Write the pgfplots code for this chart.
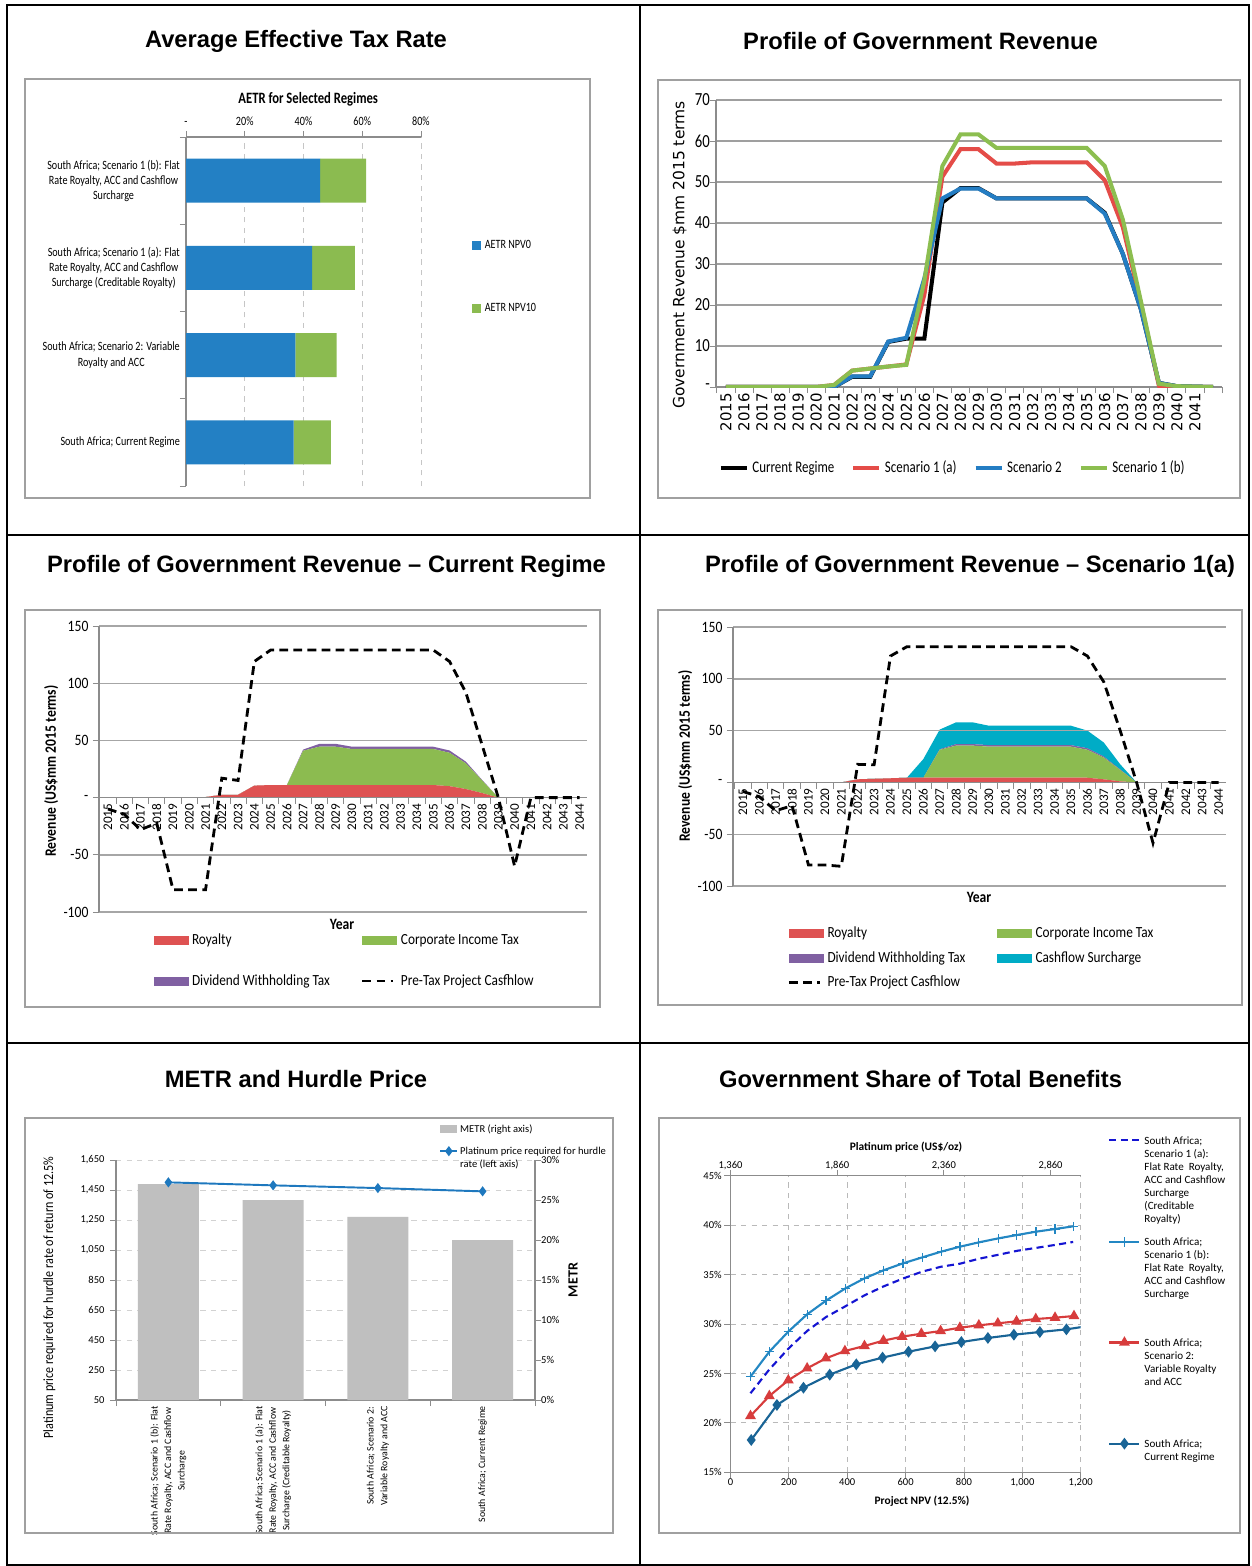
\documentclass[border=0pt]{standalone}
\usepackage{fontspec}
\setmainfont{Carlito}
\newfontfamily\titlefont{Liberation Sans}
\newfontfamily\nA[FakeStretch=0.8]{Carlito}
\newfontfamily\nB[FakeStretch=0.86]{Carlito}
\newfontfamily\dv{DejaVu Sans}
\usepackage{pgfplots}
\usepackage{pgfplotstable}
\pgfplotsset{compat=1.18}

\definecolor{frame}{RGB}{160,160,160}
\definecolor{axgray}{RGB}{140,140,140}
\definecolor{aetrBlue}{RGB}{35,128,196}
\definecolor{aetrGreen}{RGB}{139,187,80}
\definecolor{lnRed}{RGB}{228,76,72}
\definecolor{lnBlue}{RGB}{36,125,195}
\definecolor{lnGreen}{RGB}{140,190,80}
\definecolor{arRed}{RGB}{222,82,82}
\definecolor{arGreen}{RGB}{140,187,80}
\definecolor{arPurple}{RGB}{128,96,162}
\definecolor{arCyan}{RGB}{0,172,198}
\definecolor{barGray}{RGB}{191,191,191}
\definecolor{hurdleBlue}{RGB}{30,120,190}
\definecolor{gsDash}{RGB}{20,20,210}
\definecolor{gsOneB}{RGB}{35,135,195}
\definecolor{gsRed}{RGB}{215,60,60}
\definecolor{gsCur}{RGB}{25,100,150}

\pgfplotsset{
  panel/.style={scale only axis, anchor=south west, major tick length=0pt, minor tick length=3.5pt,
    tick align=outside, tick style={axgray, line width=0.5pt}, axis line style={axgray, line width=0.6pt},
    legend cell align=left},
  sqlegend/.style={legend image code/.code={\fill[##1] (0cm,-0.09cm) rectangle (0.18cm,0.09cm);}},
  boxlegend/.style={legend image code/.code={\fill[##1] (0cm,-0.09cm) rectangle (0.7cm,0.09cm);}},
  shortline/.style={legend image code/.code={\draw[##1] (0cm,0cm) -- (0.52cm,0cm);}},
  dashlegend/.style={legend image code/.code={\draw[##1] (0cm,0cm) -- (0.62cm,0cm);}},
  hiline/.style={legend image code/.code={\draw[mark repeat=2, mark phase=2, ##1] plot coordinates {(0cm,0.075cm) (0.3cm,0.075cm) (0.6cm,0.075cm)};}},
  hilinemid/.style={legend image code/.code={\draw[##1, mark indices={2}] plot coordinates {(0cm,0.075cm) (0.3cm,0.075cm) (0.6cm,0.075cm)};}},
  smallline/.style={legend image code/.code={\draw[mark repeat=2, mark phase=2, ##1] plot coordinates {(0cm,0.07cm) (0.17cm,0.07cm) (0.34cm,0.07cm)};}},
  hibar/.style={legend image code/.code={\fill[##1] (0cm,0cm) rectangle (0.34cm,0.16cm);}},
  gsbox/.style={panel, at={(14.61cm,-29.446cm)}, width=7.004cm, height=5.932cm,
    xmin=0, xmax=1200, ymin=15, ymax=45},
  gsleg/.style={legend style={at={(axis description cs:1.078,#1)}, anchor=north west, draw=none, fill=none, inner sep=0pt,
    cells={anchor=base west}, font=\fontsize{6.3}{7.4}\selectfont,
    nodes={inner sep=0pt}, /tikz/every odd column/.append style={column sep=0.08cm}}},
}

% government revenue by scenario, 2015-2042
\pgfplotstableread{
idx cur s1a s2 s1b
0 0 0 0 0
1 0 0 0 0
2 0 0 0 0
3 0 0 0 0
4 0 0 0 0
5 0 0 0 0
6 0 0.5 0 0.5
7 2.5 4 2.6 4
8 2.5 4.5 2.6 4.5
9 11 5 11.1 5
10 11.8 5.5 12 5.4
11 11.8 22.5 26.5 26
12 45 51.3 46 53.9
13 48.5 58 48.4 61.6
14 48.5 58 48.4 61.6
15 46 54.5 46 58.3
16 46 54.5 46 58.3
17 46 54.8 46 58.3
18 46 54.8 46 58.3
19 46 54.8 46 58.3
20 46 54.8 46 58.3
21 42.5 50.4 42.3 53.9
22 32.5 39 32.5 40.9
23 19 20.5 19 21
24 1 0.3 1 0.8
25 0.2 0 0.2 0.2
26 0.1 0 0.1 0.1
27 0 0 0 0
}\revtable

% current regime, 2015-2044
\pgfplotstableread{
idx roy cit dwt pre
0 0 0 0 -10
1 0 0 0 -14.5
2 0 0 0 -28
3 0 0 0 -22.4
4 0 0 0 -80.5
5 0 0 0 -80.5
6 0.5 0 0 -80.5
7 2.5 0 0 17
8 2.5 0 0 15
9 10.5 0 0 119
10 11 0 0 129
11 11 0 0 129
12 11 30 1 129
13 11 33.5 2.5 129
14 11 33.5 2.5 129
15 11 31.5 2 129
16 11 31.5 2 129
17 11 31.5 2 129
18 11 31.5 2 129
19 11 31.5 2 129
20 11 31.5 2 129
21 10 29.2 2 119
22 7.5 22.5 1.5 92
23 4 11 0.5 46
24 0 0 0 0
25 0 0 0 -60
26 0 0 0 0
27 0 0 0 0
28 0 0 0 0
29 0 0 0 0
}\curtable

% scenario 1(a), 2015-2044
\pgfplotstableread{
idx roy cit dwt cs pre
0 0 0 0 0 -8.7
1 0 0 0 0 -13.8
2 0 0 0 0 -27.3
3 0 0 0 0 -22.5
4 0 0 0 0 -79.7
5 0 0 0 0 -79.7
6 0 0 0 0 -81
7 3 0 0 0 17.4
8 3.5 0 0 0 17
9 4 0 0 0 122
10 4.5 0 0 0 131
11 4.5 0 0 18 131
12 4.5 27 0.5 19 131
13 4.5 31 1.5 21 131
14 4.5 31 1.5 21 131
15 4.5 30 1.5 18.7 131
16 4.5 30 1.5 18.7 131
17 4.5 30 1.5 18.7 131
18 4.5 30 1.5 18.7 131
19 4.5 30 1.5 18.7 131
20 4.5 30 1.5 18.7 131
21 4.5 27 1.5 17 122
22 3 21 1 13.5 97
23 1 11 0.5 5 50
24 0 0 0 0 0
25 0 0 0 0 -58.5
26 0 0 0 0 0
27 0 0 0 0 0
28 0 0 0 0 0
29 0 0 0 0 0
}\scatable

\begin{document}
\begin{tikzpicture}
\fill[white] (0,0) rectangle (25.02cm,-31.32cm);
\path[use as bounding box] (0,0) rectangle (25.02cm,-31.32cm);

% ---------- AETR ----------
\begin{axis}[panel, at={(3.72cm,-9.72cm)}, width=4.70cm, height=6.98cm,
  xbar stacked, bar width=0.88cm,
  xmin=0, xmax=80, ymin=-0.5, ymax=3.5,
  axis x line*=top, axis y line*=left,
  xtick={0,20,40,60,80}, xticklabels={-,20\%,40\%,60\%,80\%},
  minor xtick={0,20,40,60,80},
  xmajorgrids, grid style={dashed, gray!45, line width=0.5pt},
  ytick={0,1,2,3},
  yticklabels={South Africa; Current Regime,
    {South Africa; Scenario 2: Variable\\Royalty and ACC},
    {South Africa; Scenario 1 (a): Flat\\Rate Royalty, ACC and Cashflow\\Surcharge (Creditable Royalty)},
    {South Africa; Scenario 1 (b): Flat\\Rate Royalty, ACC and Cashflow\\Surcharge}},
  minor ytick={-0.5,0.5,1.5,2.5,3.5},
  yticklabel style={align=center, font=\nA\fontsize{7.2}{8.6}\selectfont},
  xticklabel style={yshift=3pt, font=\nA\fontsize{7.2}{8.6}\selectfont},
  title={\bfseries AETR for Selected Regimes},
  title style={at={(axis description cs:0.52,1.078)}, anchor=center, font=\nA\fontsize{9}{11}\selectfont},
  legend style={at={(axis description cs:1.217,0.716)}, anchor=north west, draw=none, fill=none,
    inner sep=0pt, row sep=0.9cm, font=\nA\fontsize{7.2}{8.6}\selectfont},
]
\addplot[fill=aetrBlue, draw=none, sqlegend] coordinates {(36.6,0) (37.2,1) (42.9,2) (45.7,3)};
\addlegendentry{AETR NPV0}
\addplot[fill=aetrGreen, draw=none, sqlegend] coordinates {(12.7,0) (14.1,1) (14.6,2) (15.6,3)};
\addlegendentry{AETR NPV10}
\end{axis}

% ---------- Government revenue ----------
\begin{axis}[panel, at={(14.32cm,-7.74cm)}, width=10.12cm, height=5.74cm,
  xmin=-0.55, xmax=27.5, ymin=0, ymax=70,
  axis x line*=bottom, axis y line*=left,
  ytick={0,10,...,70}, yticklabels={-,10,20,30,40,50,60,70},
  minor ytick={0,10,...,70},
  ymajorgrids, grid style={gray!75, line width=0.8pt},
  xtick={0,...,26},
  xticklabels={2015,2016,2017,2018,2019,2020,2021,2022,2023,2024,2025,2026,2027,2028,2029,2030,2031,2032,2033,2034,2035,2036,2037,2038,2039,2040,2041},
  minor xtick={-0.5,0.5,...,27.5},
  xticklabel style={rotate=90, anchor=east, font=\dv\fontsize{8.5}{10}\selectfont},
  yticklabel style={font=\nA\fontsize{10.5}{12}\selectfont},
  ylabel={Government Revenue \$mm 2015 terms},
  ylabel style={at={(axis description cs:-0.072,0.46)}, anchor=center, font=\dv\fontsize{8.8}{10}\selectfont},
  legend columns=4,
  legend style={at={(axis description cs:0.005,-0.282)}, anchor=west, draw=none, fill=none, inner sep=0pt,
    font=\nA\fontsize{9.2}{11}\selectfont, /tikz/every even column/.append style={column sep=0.27cm}},
]
\addplot[black, line width=2.3pt, shortline] table[x=idx, y=cur] {\revtable};
\addlegendentry{Current Regime}
\addplot[lnRed, line width=2.3pt, shortline] table[x=idx, y=s1a] {\revtable};
\addlegendentry{Scenario 1 (a)}
\addplot[lnBlue, line width=2.3pt, shortline] table[x=idx, y=s2] {\revtable};
\addlegendentry{Scenario 2}
\addplot[lnGreen, line width=2.3pt, shortline] table[x=idx, y=s1b] {\revtable};
\addlegendentry{Scenario 1 (b)}
\end{axis}

% ---------- Current regime profile ----------
\begin{axis}[panel, at={(1.98cm,-18.24cm)}, width=9.76cm, height=5.72cm,
  xmin=-0.55, xmax=29.45, ymin=-100, ymax=150,
  axis x line*=middle, axis y line*=left,
  stack plots=y, area style,
  ytick={-100,-50,0,50,100,150}, yticklabels={-100,-50,-,50,100,150},
  minor ytick={-100,-50,0,50,100,150},
  ymajorgrids, grid style={gray!70, line width=0.8pt},
  xtick={0,...,29},
  xticklabels={2015,2016,2017,2018,2019,2020,2021,2022,2023,2024,2025,2026,2027,2028,2029,2030,2031,2032,2033,2034,2035,2036,2037,2038,2039,2040,2041,2042,2043,2044},
  minor xtick={-0.5,0.5,...,29.5},
  xticklabel style={rotate=90, anchor=east, font=\fontsize{7.5}{9}\selectfont},
  yticklabel style={xshift=-2.5pt, font=\nB\fontsize{9}{11}\selectfont},
  xlabel={\bfseries Year}, xlabel style={at={(axis description cs:0.498,-0.045)}, anchor=center, font=\nB\fontsize{9}{11}\selectfont},
  ylabel={\bfseries Revenue (US\$mm 2015 terms)},
  ylabel style={at={(axis description cs:-0.098,0.493)}, anchor=center, font=\nB\fontsize{9}{11}\selectfont},
  legend columns=2,
  legend style={at={(axis description cs:0.111,-0.063)}, anchor=north west, draw=none, fill=none, inner sep=0pt,
    row sep=0.4cm, font=\nB\fontsize{8.8}{10}\selectfont, /tikz/every even column/.append style={column sep=0.55cm}},
]
\addplot[fill=arRed, draw=none, boxlegend] table[x=idx, y=roy] {\curtable} \closedcycle;
\addlegendentry{Royalty}
\addplot[fill=arGreen, draw=none, boxlegend] table[x=idx, y=cit] {\curtable} \closedcycle;
\addlegendentry{Corporate Income Tax}
\addplot[fill=arPurple, draw=none, boxlegend] table[x=idx, y=dwt] {\curtable} \closedcycle;
\addlegendentry{Dividend Withholding Tax}
\addlegendimage{dashlegend, black, line width=1.6pt, dash pattern=on 5pt off 3pt}
\addlegendentry{Pre-Tax Project Casfhlow}
\end{axis}
\begin{axis}[panel, at={(1.98cm,-18.24cm)}, width=9.76cm, height=5.72cm,
  xmin=-0.55, xmax=29.45, ymin=-100, ymax=150, hide axis, clip=false]
\addplot[black, line width=1.6pt, dash pattern=on 5pt off 3pt] table[x=idx, y=pre] {\curtable};
\end{axis}

% ---------- Scenario 1(a) profile ----------
\begin{axis}[panel, at={(14.66cm,-17.72cm)}, width=9.86cm, height=5.18cm,
  xmin=-0.6, xmax=29.45, ymin=-100, ymax=150,
  axis x line*=middle, axis y line*=left,
  stack plots=y, area style,
  ytick={-100,-50,0,50,100,150}, yticklabels={-100,-50,-,50,100,150},
  minor ytick={-100,-50,0,50,100,150},
  ymajorgrids, grid style={gray!70, line width=0.8pt},
  xtick={0,...,29},
  xticklabels={2015,2016,2017,2018,2019,2020,2021,2022,2023,2024,2025,2026,2027,2028,2029,2030,2031,2032,2033,2034,2035,2036,2037,2038,2039,2040,2041,2042,2043,2044},
  minor xtick={-0.5,0.5,...,29.5},
  xticklabel style={rotate=90, anchor=east, font=\fontsize{7.5}{9}\selectfont},
  yticklabel style={xshift=-2.5pt, font=\nB\fontsize{9}{11}\selectfont},
  xlabel={\bfseries Year}, xlabel style={at={(axis description cs:0.499,-0.046)}, anchor=center, font=\nB\fontsize{9}{11}\selectfont},
  ylabel={\bfseries Revenue (US\$mm 2015 terms)},
  ylabel style={at={(axis description cs:-0.097,0.502)}, anchor=center, font=\nB\fontsize{9}{11}\selectfont},
  legend columns=2,
  legend style={at={(axis description cs:0.11,-0.143)}, anchor=north west, draw=none, fill=none, inner sep=0pt,
    row sep=0.08cm, font=\nB\fontsize{8.8}{10}\selectfont, /tikz/every even column/.append style={column sep=0.56cm}},
]
\addplot[fill=arRed, draw=none, boxlegend] table[x=idx, y=roy] {\scatable} \closedcycle;
\addlegendentry{Royalty}
\addplot[fill=arGreen, draw=none, boxlegend] table[x=idx, y=cit] {\scatable} \closedcycle;
\addlegendentry{Corporate Income Tax}
\addplot[fill=arPurple, draw=none, boxlegend] table[x=idx, y=dwt] {\scatable} \closedcycle;
\addlegendentry{Dividend Withholding Tax}
\addplot[fill=arCyan, draw=none, boxlegend] table[x=idx, y=cs] {\scatable} \closedcycle;
\addlegendentry{Cashflow Surcharge}
\addlegendimage{dashlegend, black, line width=1.6pt, dash pattern=on 5pt off 3pt}
\addlegendentry{Pre-Tax Project Casfhlow}
\end{axis}
\begin{axis}[panel, at={(14.66cm,-17.72cm)}, width=9.86cm, height=5.18cm,
  xmin=-0.6, xmax=29.45, ymin=-100, ymax=150, hide axis, clip=false]
\addplot[black, line width=1.6pt, dash pattern=on 5pt off 3pt] table[x=idx, y=pre] {\scatable};
\end{axis}

% ---------- METR and hurdle price ----------
\begin{axis}[panel, at={(2.32cm,-28cm)}, width=8.38cm, height=4.8cm,
  ybar, bar width=1.22cm,
  xmin=-0.5, xmax=3.5, ymin=0, ymax=30,
  axis x line*=bottom, axis y line*=right,
  ytick={0,5,...,30}, yticklabels={0\%,5\%,10\%,15\%,20\%,25\%,30\%},
  minor ytick={0,5,...,30},
  extra y ticks={3.75,7.5,11.25,15,18.75,22.5,26.25,30}, extra y tick labels={,,,,,,,},
  extra y tick style={grid=major},
  grid style={dashed, gray!35, line width=0.5pt},
  xtick={0,1,2,3},
  xticklabels={{South Africa; Scenario 1 (b): Flat\\Rate Royalty, ACC and Cashflow\\Surcharge},
    {South Africa; Scenario 1 (a): Flat\\Rate Royalty, ACC and Cashflow\\Surcharge (Creditable Royalty)},
    {South Africa; Scenario 2:\\Variable Royalty and ACC},
    {South Africa; Current Regime}},
  minor xtick={-0.5,0.5,1.5,2.5,3.5},
  xticklabel style={rotate=90, anchor=east, align=center, font=\fontsize{5.6}{7.7}\selectfont},
  yticklabel style={font=\fontsize{6}{7}\selectfont},
  ylabel={\bfseries METR},
  ylabel style={at={(axis description cs:1.091,0.5)}, anchor=center, font=\fontsize{8}{9}\selectfont},
]
\addplot[fill=barGray, draw=none] coordinates {(0,27.0) (1,25.0) (2,22.9) (3,20.0)};
\end{axis}
\begin{axis}[panel, at={(2.32cm,-28cm)}, width=8.38cm, height=4.8cm,
  xmin=-0.5, xmax=3.5, ymin=50, ymax=1650,
  axis x line=none, axis y line*=left,
  ytick={50,250,...,1650}, yticklabels={50,250,450,650,850,{1,050},{1,250},{1,450},{1,650}},
  minor ytick={50,250,...,1650},
  yticklabel style={xshift=-3pt, font=\fontsize{6}{7}\selectfont},
  ylabel={Platinum price required for hurdle rate of return of 12.5\%},
  ylabel style={at={(axis description cs:-0.159,0.427)}, anchor=center, font=\nB\fontsize{8}{9}\selectfont},
  legend style={at={(axis description cs:0.771,1.15)}, anchor=north west, draw=none, fill=none, inner sep=0pt,
    cells={anchor=base west}, row sep=0.2cm, font=\fontsize{6}{7.2}\selectfont,
    nodes={inner sep=0.5pt}, /tikz/every odd column/.append style={column sep=0.02cm}},
]
\addlegendimage{hibar, fill=barGray, draw=none}
\addlegendentry{METR (right axis)}
\addplot[hurdleBlue, line width=1.1pt, mark=diamond*, mark size=2pt, smallline] coordinates {(0,1501) (1,1481) (2,1463) (3,1441)};
\addlegendentry{\parbox[t]{3.3cm}{\raggedright Platinum price required for hurdle\\rate (left axis)}}
\end{axis}

% ---------- Government share of total benefits ----------
\begin{axis}[gsbox,
  axis x line*=bottom, axis y line*=left,
  xtick={0,200,...,1200}, xticklabels={0,200,400,600,800,{1,000},{1,200}},
  minor xtick={0,200,...,1200},
  ytick={15,20,...,45}, yticklabels={15\%,20\%,25\%,30\%,35\%,40\%,45\%},
  minor ytick={15,20,...,45},
  grid=major, grid style={dashed, gray!55, line width=0.5pt},
  tick label style={font=\fontsize{6}{7}\selectfont},
  yticklabel style={xshift=-1.5pt},
  xlabel={\bfseries Project NPV (12.5\%)},
  xlabel style={at={(axis description cs:0.547,-0.096)}, anchor=center, font=\fontsize{6.5}{8}\selectfont},
  gsleg=1.134,
]
\addplot[gsDash, line width=1.2pt, dash pattern=on 4pt off 2.5pt, hiline] coordinates {
  (68.5,23.0) (133,25.4) (198,27.5) (262.6,29.3) (327,30.7) (394,31.8) (459,32.9) (524,33.8) (591,34.6)
  (657,35.3) (722,35.8) (786,36.1) (851,36.6) (917,37.0) (981,37.4) (1047,37.7) (1112,38.0) (1174,38.3)};
\addlegendentry{\parbox[t]{2cm}{\raggedright South Africa;\\Scenario 1 (a):\\Flat Rate \ Royalty,\\ACC and Cashflow\\Surcharge\\(Creditable\\Royalty)}}
\end{axis}
\begin{axis}[gsbox, hide axis, gsleg=0.793]
\addplot[gsOneB, line width=1.2pt, mark=+, mark size=2.6pt, mark options={line width=0.7pt}, hiline] coordinates {
  (68.5,24.68) (133,27.20) (198,29.23) (262.6,30.98) (327,32.36) (394,33.61) (459,34.62) (524,35.43) (591,36.14)
  (657,36.74) (722,37.32) (786,37.82) (851,38.26) (917,38.66) (981,39.00) (1047,39.34) (1112,39.61) (1174,39.88)};
\addlegendentry{\parbox[t]{2cm}{\raggedright South Africa;\\Scenario 1 (b):\\Flat Rate \ Royalty,\\ACC and Cashflow\\Surcharge}}
\end{axis}
\begin{axis}[gsbox, hide axis, gsleg=0.453]
\addplot[gsRed, line width=1.2pt, mark=triangle*, mark size=2.4pt, hiline] coordinates {
  (68.5,20.70) (133,22.72) (198,24.31) (262.6,25.52) (327,26.53) (392,27.27) (459,27.78) (524,28.32) (588,28.72)
  (654,29.02) (720,29.29) (786,29.63) (851,29.87) (916,30.07) (980,30.27) (1046,30.51) (1112,30.64) (1177,30.81)};
\addlegendentry{\parbox[t]{2cm}{\raggedright South Africa;\\Scenario 2:\\Variable Royalty\\and ACC}}
\end{axis}
\begin{axis}[gsbox, hide axis, gsleg=0.112]
\addplot[gsCur, line width=1.2pt, mark=diamond*, mark size=2.4pt, mark indices={1,...,13}, hilinemid] coordinates {
  (71,18.27) (159,21.81) (250,23.56) (340,24.88) (431,25.92) (521,26.60) (610,27.20) (701,27.74)
  (791,28.18) (882,28.59) (971,28.92) (1060,29.19) (1151,29.46) (1200,29.68)};
\addlegendentry{\parbox[t]{2cm}{\raggedright South Africa;\\Current Regime}}
\end{axis}
\begin{axis}[panel, at={(14.61cm,-29.446cm)}, width=7.004cm, height=5.932cm,
  xmin=1360, xmax=3001.5, ymin=15, ymax=45,
  axis x line*=top, axis y line=none,
  xtick={1360,1860,2360,2860}, xticklabels={{1,360},{1,860},{2,360},{2,860}},
  minor xtick={1360,1860,2360,2860},
  xticklabel style={font=\fontsize{6}{7}\selectfont},
  xlabel={\bfseries Platinum price (US\$/oz)},
  xlabel style={at={(axis description cs:0.501,1.097)}, anchor=center, font=\fontsize{6.5}{8}\selectfont},
]
\end{axis}

% ---------- frames and titles ----------
\draw[frame, line width=0.6pt] (0.50cm,-1.58cm) rectangle (11.80cm,-9.96cm);
\draw[frame, line width=0.6pt] (13.16cm,-1.60cm) rectangle (24.80cm,-9.96cm);
\draw[frame, line width=0.6pt] (0.50cm,-12.20cm) rectangle (12.00cm,-20.14cm);
\draw[frame, line width=0.6pt] (13.16cm,-12.20cm) rectangle (24.84cm,-20.10cm);
\draw[frame, line width=0.6pt] (0.50cm,-22.36cm) rectangle (12.26cm,-30.66cm);
\draw[frame, line width=0.6pt] (13.18cm,-22.36cm) rectangle (24.80cm,-30.66cm);

\draw[black, line width=1.2pt] (0.14cm,-0.10cm) rectangle (24.98cm,-31.30cm);
\draw[black, line width=1.2pt] (12.80cm,-0.10cm) -- (12.80cm,-31.30cm);
\draw[black, line width=1.2pt] (0.14cm,-10.70cm) -- (24.98cm,-10.70cm);
\draw[black, line width=1.2pt] (0.14cm,-20.86cm) -- (24.98cm,-20.86cm);

\begin{scope}[every node/.style={font=\titlefont\bfseries\fontsize{13.5}{16}\selectfont, anchor=center}]
\node at (5.92cm,-0.82cm) {Average Effective Tax Rate};
\node at (18.41cm,-0.82cm) {Profile of Government Revenue};
\node at (6.53cm,-11.32cm) {Profile of Government Revenue – Current Regime};
\node at (19.40cm,-11.32cm) {Profile of Government Revenue – Scenario 1(a)};
\node at (5.92cm,-21.58cm) {METR and Hurdle Price};
\node at (18.41cm,-21.58cm) {Government Share of Total Benefits};
\end{scope}
\end{tikzpicture}
\end{document}
